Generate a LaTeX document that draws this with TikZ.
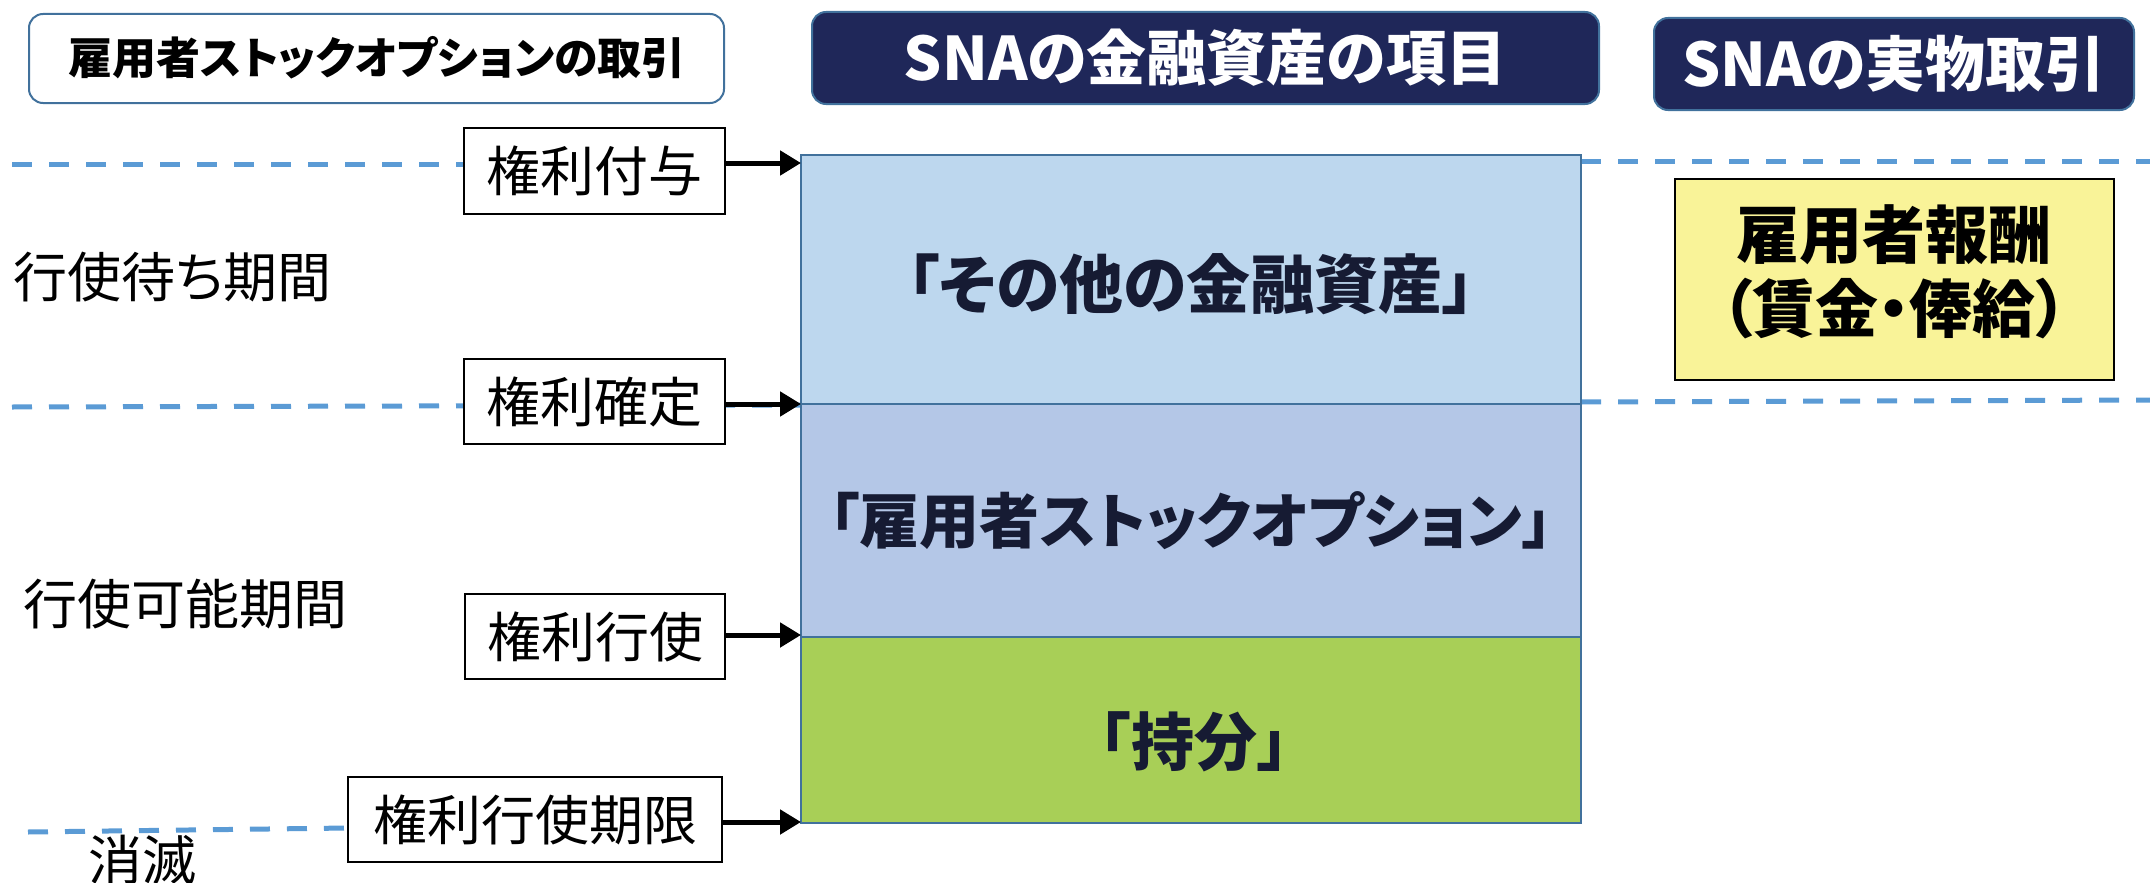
\documentclass[tikz,border=0pt]{standalone}
\usepackage{fontspec}
\setmainfont{Noto Sans CJK JP}[RawFeature=+palt]
\usetikzlibrary{arrows.meta}
\definecolor{navy}{HTML}{1F2759}
\definecolor{edgeblue}{HTML}{41719C}
\definecolor{dashblue}{HTML}{5B9BD5}
\definecolor{lblue}{HTML}{BDD7EE}
\definecolor{mblue}{HTML}{B4C7E7}
\definecolor{lgreen}{HTML}{A8CF57}
\definecolor{lyellow}{HTML}{F9F398}
\definecolor{darktext}{HTML}{161B33}
\tikzset{
  hdrwhite/.style={draw=edgeblue,line width=2pt,fill=white,rounded corners=14pt},
  hdrnavy/.style={draw=edgeblue,line width=2pt,fill=navy,rounded corners=14pt},
  band/.style={draw=edgeblue,line width=2pt},
  evbox/.style={draw=black,line width=1.6pt,fill=white,inner sep=0pt,font=\fontsize{54pt}{60pt}\selectfont},
  perlabel/.style={anchor=west,font=\fontsize{54pt}{60pt}\selectfont},
  perdash/.style={draw=dashblue,line width=5pt,dash pattern=on 20pt off 17pt},
  arr/.style={draw=black,line width=5pt,-{Triangle[length=21pt,width=24pt]}},
}
\begin{document}
\begin{tikzpicture}[x=1pt,y=-1pt]
\useasboundingbox (0,0) rectangle (2150,883);
% dashed period lines (behind)
\coordinate (d1a) at (12,164);
\coordinate (d1b) at (464,164);
\coordinate (d2a) at (12,407);
\coordinate (d2b) at (801,405);
\coordinate (d3a) at (28,832);
\coordinate (d3b) at (348,828);
\coordinate (r1a) at (1581,161);
\coordinate (r1b) at (2150,161);
\coordinate (r2a) at (1581,402);
\coordinate (r2b) at (2150,400);
\draw[perdash] (d1a) -- (d1b);
\draw[perdash] (d2a) -- (d2b);
\draw[perdash] (d3a) -- (d3b);
\draw[perdash] (r1a) -- (r1b);
\draw[perdash] (r2a) -- (r2b);
% headers
\draw[hdrwhite] (29,14) rectangle (724,103);
\node[font=\fontsize{44pt}{50pt}\selectfont\bfseries] (h1) at (377,58) {雇用者ストックオプションの取引};
\draw[hdrnavy] (812,12) rectangle (1599,104);
\node[text=white,font=\fontsize{60pt}{66pt}\selectfont\bfseries] (h2) at (1205,58) {SNAの金融資産の項目};
\draw[hdrnavy] (1654,18) rectangle (2134,110);
\node[text=white,font=\fontsize{60pt}{66pt}\selectfont\bfseries] (h3) at (1894,64) {SNAの実物取引};
% bands
\draw[band,fill=lblue] (801,155) rectangle (1581,404);
\draw[band,fill=mblue] (801,404) rectangle (1581,637);
\draw[band,fill=lgreen] (801,637) rectangle (1581,823);
\node[text=darktext,font=\fontsize{64pt}{70pt}\selectfont\bfseries] (m1) at (1191,284) {「その他の金融資産」};
\node[text=darktext,font=\fontsize{60pt}{66pt}\selectfont\bfseries] (m2) at (1191,521) {「雇用者ストックオプション」};
\node[text=darktext,font=\fontsize{63pt}{68pt}\selectfont\bfseries] (m3) at (1194,742) {「持分」};
% yellow box
\draw[draw=black,line width=1.5pt,fill=lyellow] (1675,179) rectangle (2114,380);
\node[align=center,font=\fontsize{63pt}{74pt}\selectfont\bfseries] (comp) at (1894,272) {雇用者報酬\\（賃金・俸給）};
% event boxes
\node[evbox,minimum width=261pt,minimum height=86pt] (b1) at (594.5,171) {権利付与};
\node[evbox,minimum width=261pt,minimum height=85pt] (b2) at (594.5,401.5) {権利確定};
\node[evbox,minimum width=260pt,minimum height=85pt] (b3) at (595,636.5) {権利行使};
\node[evbox,minimum width=374pt,minimum height=85pt] (b4) at (535,819.5) {権利行使期限};
% arrows
\coordinate (a1) at (801,163);
\coordinate (a2) at (801,404);
\coordinate (a3) at (801,635);
\coordinate (a4) at (801,822);
\draw[arr] (b1.east |- a1) -- (a1);
\draw[arr] (b2.east |- a2) -- (a2);
\draw[arr] (b3.east |- a3) -- (a3);
\draw[arr] (b4.east |- a4) -- (a4);
% period labels
\node[perlabel] (p1) at (10,277) {行使待ち期間};
\node[perlabel] (p2) at (20,604) {行使可能期間};
\node[perlabel] (p3) at (85,860) {消滅};
\end{tikzpicture}
\end{document}
